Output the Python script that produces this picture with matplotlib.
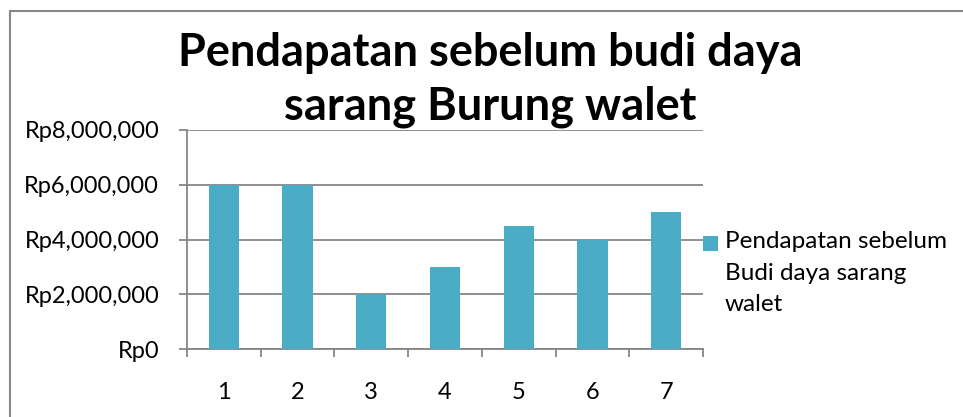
"""Bar chart: Pendapatan sebelum budi daya sarang Burung walet."""
import matplotlib

matplotlib.use("Agg")
import matplotlib.pyplot as plt
from matplotlib.patches import Rectangle
from matplotlib.ticker import FuncFormatter

plt.rcParams["font.family"] = ["Lato", "DejaVu Sans"]

CATEGORIES = ["1", "2", "3", "4", "5", "6", "7"]
INCOME = [6000000, 6000000, 2000000, 3000000, 4500000, 4000000, 5000000]
Y_TICKS = [0, 2000000, 4000000, 6000000, 8000000]
TITLE = "Pendapatan sebelum budi daya\nsarang Burung walet"
LEGEND_LABEL = "Pendapatan sebelum\nBudi daya sarang\nwalet"

BAR_COLOR = "#4BACC6"
GRID_COLOR = "#868686"
W, H = 963, 417


def rupiah(v, _pos):
    return f"Rp{int(v):,}"


def main() -> None:
    fig = plt.figure(figsize=(W / 100, H / 100), dpi=100)
    ax = fig.add_axes([187 / W, 1 - 349 / H, 516 / W, 219 / H])

    x = list(range(len(CATEGORIES)))
    ax.bar(x, INCOME, width=0.41, color=BAR_COLOR, zorder=3)

    ax.set_xlim(-0.5, len(CATEGORIES) - 0.5)
    ax.set_ylim(0, 8000000)
    ax.set_yticks(Y_TICKS)
    ax.yaxis.set_major_formatter(FuncFormatter(rupiah))
    ax.set_xticks(x)
    ax.set_xticklabels(CATEGORIES)
    ax.set_xticks([i - 0.5 for i in range(len(CATEGORIES) + 1)], minor=True)

    ax.grid(axis="y", color=GRID_COLOR, linewidth=1.3, zorder=0)
    for side in ("top", "right"):
        ax.spines[side].set_visible(False)
    for side in ("left", "bottom"):
        ax.spines[side].set_color(GRID_COLOR)
        ax.spines[side].set_linewidth(1.3)

    ax.tick_params(axis="y", length=6, width=1.3, color=GRID_COLOR,
                   labelsize=17, pad=14)
    ax.tick_params(axis="x", which="major", length=0, labelsize=17, pad=24)
    ax.tick_params(axis="x", which="minor", length=6, width=1.3,
                   color=GRID_COLOR)

    fig.text(490 / W, 1 - 80 / H, TITLE, ha="center", va="center",
             fontsize=32.5, fontweight="bold", linespacing=1.36)

    # legend drawn by hand so the swatch sits on the first text line
    fig.add_artist(Rectangle((703 / W, 1 - 251 / H), 15 / W, 15 / H,
                             transform=fig.transFigure, facecolor=BAR_COLOR,
                             edgecolor="none"))
    fig.text(725 / W, 1 - 231 / H, LEGEND_LABEL, ha="left", va="top",
             fontsize=17.5, linespacing=1.62)

    # outer chart frame (only top and left edges are visible in the crop)
    fig.add_artist(Rectangle((10 / W, -0.1), 1.2, 1.1 - 11 / H,
                             transform=fig.transFigure, fill=False,
                             edgecolor="#878787", linewidth=1.5))

    fig.savefig("out.png", dpi=100)
    plt.close(fig)


if __name__ == "__main__":
    main()
